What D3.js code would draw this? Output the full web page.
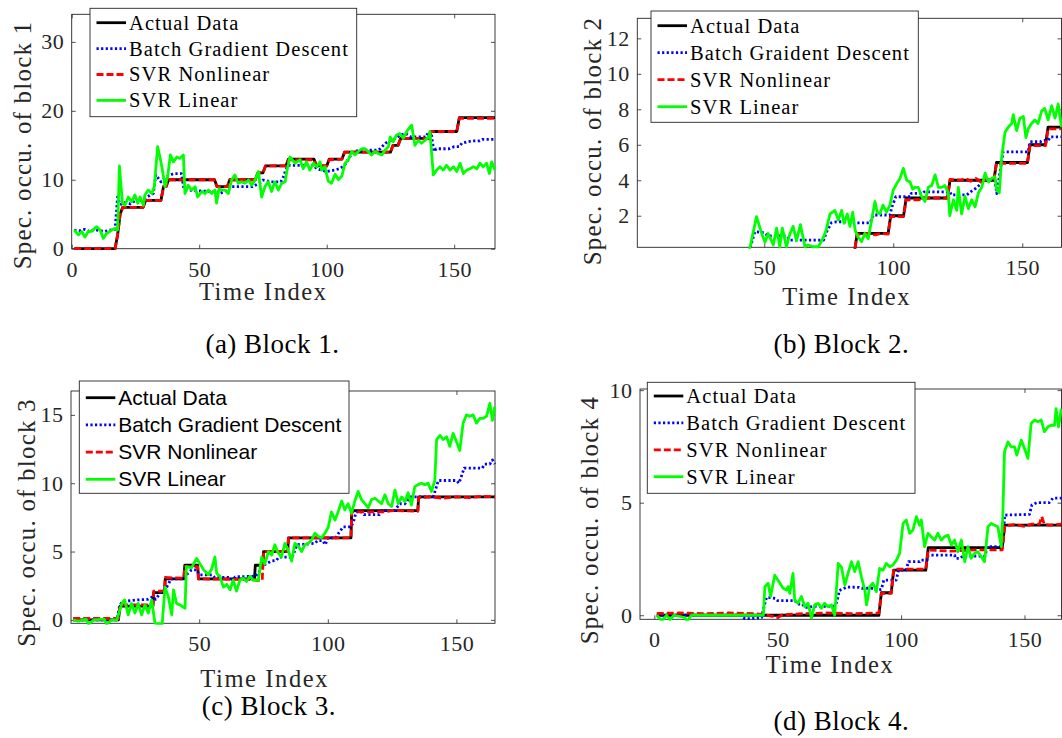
<!DOCTYPE html>
<html>
<head>
<meta charset="utf-8">
<script src="https://cdn.jsdelivr.net/npm/d3@7"></script>
<style>
  html, body { margin: 0; padding: 0; background: #fff; }
  svg { display: block; }
</style>
</head>
<body>
<div id="chart"></div>
<script>
// ---- data: [time index, value] vertices ----

// (a) Block 1
const b1Actual = [[1,0],[17,0],[18,2],[19,5],[20,6],[28,6],[29,7],[35,7],[36,9],[37,9],[38,10],[56,10],[57,9],[61,9],[62,10],[72,10],[73,11],[75,11],[76,12],[84,12],[85,13],[95,13],[96,12],[100,12],[101,13],[106,13],[107,14],[125,14],[126,15],[128,15],[129,16],[140,16],[141,17],[151,17],[152,19],[166,19]];
const b1Bgd = [[1,2.7],[3,2.6],[5,2.8],[7,2.5],[9,2.8],[11,2.6],[13,2.5],[15,2.7],[17,2.8],[18,7.5],[19,6.4],[21,6.7],[23,6.5],[25,7.0],[27,6.7],[28,7.2],[30,7.6],[32,8.0],[33,10.7],[35,9.7],[37,10.4],[40,10.9],[43,10.9],[44,8.7],[45,8.5],[50,8.4],[55,8.3],[57,8.4],[58,8.0],[60,8.3],[61,8.6],[62,9.0],[71,9.0],[72,9.2],[74,9.6],[75,9.95],[78,9.7],[82,9.7],[83,10.4],[84,11.5],[85,12.1],[95,12.1],[96,11.6],[100,11.2],[103,11.4],[105,11.6],[107,12.1],[109,13.3],[111,14.1],[113,14.3],[120,14.3],[121,14.5],[123,15.3],[125,15.7],[127,16.0],[129,16.5],[131,16.7],[133,16.2],[139,16.2],[140,17.0],[141,16.8],[142,14.1],[143,14.5],[148,14.5],[150,14.8],[152,14.8],[153,15.3],[155,15.5],[157,15.65],[160,15.65],[161,15.85],[166,15.85]];
const b1SvrNl = [[1,0],[17,0],[18,2],[19,5],[20,6],[28,6],[29,7],[35,7],[36,9],[37,9],[38,10],[56,10],[57,9],[61,9],[62,10],[72,10],[73,11],[75,11],[76,12],[84,12],[85,12.9],[95,12.9],[96,12],[100,12],[101,12.9],[106,13],[107,14],[125,14],[126,15],[128,15],[129,16],[140,16],[141,17],[151,17],[152,18.9],[166,18.9]];
const b1SvrLin = [[1,2.7],[2.6,2.0],[3.9,2.5],[5.2,1.7],[6.5,2.5],[7.8,2.5],[9.8,3.2],[11.1,2.7],[12.4,1.5],[13.7,2.2],[15.7,2.7],[17,2.95],[18,2.7],[18.7,12.0],[19.9,6.6],[20.9,6.3],[22.2,7.5],[23.5,6.8],[24.8,7.8],[25.9,6.6],[26.8,7.5],[28.1,6.3],[28.7,7.8],[30,8.5],[31.4,8.0],[32.4,9.0],[33.7,14.8],[34.6,13.3],[35.5,11.6],[36.6,9.0],[37.6,10.4],[38.7,13.6],[39.9,12.6],[41.2,13.3],[42.5,13.1],[43.8,13.6],[44.4,8.0],[45.7,9.2],[47,8.5],[48.4,9.0],[49.4,7.5],[51,8.3],[52.3,8.0],[53.6,8.5],[54.9,8.0],[56.2,8.5],[56.8,6.6],[57.8,8.7],[58.8,8.5],[60.1,8.5],[61.4,8.0],[62.7,9.95],[64,10.7],[65.3,9.5],[66.6,9.7],[67.9,9.5],[69.3,9.95],[70.6,9.2],[71.9,9.95],[73.2,11.2],[74.5,7.5],[75.8,9.0],[77.1,9.7],[78.4,8.3],[79.7,9.7],[81,8.5],[82.4,9.5],[83.7,9.7],[84.5,11.5],[85.6,13.3],[87.6,12.4],[89.5,12.9],[90.8,11.6],[92.1,12.6],[93.4,11.4],[94.8,12.4],[96.1,11.9],[97.4,12.6],[98,11.4],[99.3,11.9],[100.6,9.8],[101.9,9.5],[103.3,10.8],[104.6,10.0],[105.9,10.5],[107.2,12.4],[108.5,12.9],[109.8,14.1],[111.1,13.6],[112.4,14.1],[113.8,14.5],[115,14.5],[116.3,14.1],[117.6,13.6],[118.9,14.1],[120.2,13.8],[121.6,13.6],[122.9,14.3],[124.2,14.8],[124.9,16.2],[126.1,15.5],[127.4,16.5],[128.7,16.7],[130,16.0],[131.4,17.0],[132.7,17.7],[133.3,17.9],[134.6,15.0],[135.9,15.7],[137.2,15.3],[138.5,15.7],[139.9,16.2],[140.5,17.0],[141.8,10.7],[143.1,11.4],[144.4,11.9],[145.7,11.4],[147,12.1],[148.4,11.4],[149.7,11.9],[151,11.2],[152.3,12.4],[153.6,10.9],[154.9,11.4],[156.2,11.6],[157.5,11.9],[158.9,11.6],[160.1,12.4],[161.4,11.9],[162.7,12.4],[163.8,10.9],[164.7,12.6],[166,11.4]];

// (b) Block 2
const b2Actual = [[1,0],[85,0],[86,1],[98,1],[99,2],[104,2],[105,3],[121,3],[122,4],[139,4],[140,5],[152,5],[153,6],[159,6],[160,7],[165,7]];
const b2Bgd = [[1,0],[44,0],[44.5,0.2],[46.4,1.1],[49.9,1.05],[51.5,0.86],[58.7,0.86],[60,0.63],[73,0.63],[74.2,1.1],[76,1.6],[78,1.66],[83,1.66],[85,1.6],[91,1.6],[92.3,2.04],[98.7,2.04],[99.5,2.5],[101,3.07],[106.5,3.07],[107,3.26],[111.6,3.26],[112,3.35],[122,3.35],[122.5,3.17],[128.5,3.17],[130,3.35],[132,3.55],[134,3.8],[136,4.0],[139.4,4.0],[140.1,3.25],[141.3,4.4],[142.6,5.6],[152.3,5.6],[153,6.17],[157,6.17],[158,6.25],[160,6.25],[161,6.45],[165,6.45]];
const b2SvrNl = [[1,0],[85,0],[86,0.95],[90,1.0],[93,0.92],[95,1.0],[98,0.97],[99,1.95],[104,1.95],[105,2.9],[110,2.9],[112,3.0],[121,3.0],[122,4.05],[126,4.0],[128,4.1],[130,3.95],[132,4.1],[134,3.9],[136,4.05],[139,4.0],[140,4.95],[152,4.95],[153,5.95],[159,5.95],[160,6.9],[165,6.9]];
const b2SvrLin = [[1,0],[44,0],[44.5,0.22],[47,1.95],[49,1.0],[50.3,0.5],[51.5,1.0],[53.5,0.35],[54.8,1.3],[56,0.25],[57,1.3],[58.6,0.25],[60,1.0],[61.2,1.4],[62.5,0.6],[64,1.5],[65.8,0.25],[67,0.35],[69,0.25],[71,0.25],[73,0.8],[74,1.2],[75.5,2.1],[77.4,2.3],[78.7,1.75],[80,2.3],[80.9,1.57],[82.2,2.1],[83.2,1.4],[84.3,2.2],[85.2,1.2],[86.4,0.8],[87.7,0.54],[89,1.0],[90.3,0.7],[91.5,1.66],[92.9,2.8],[93.8,2.2],[94.8,2.1],[96,2.6],[97.4,2.2],[98.7,2.6],[100,3.45],[101.3,3.8],[102.6,4.1],[103.9,4.67],[105.2,4.0],[106.5,3.9],[107.5,3.5],[108.4,3.6],[109.7,3.6],[110.9,3.1],[112.3,2.8],[113.6,3.6],[114.9,3.7],[116.2,4.3],[117.5,3.6],[118.8,3.6],[120,3.7],[121.3,3.3],[121.9,2.0],[123.3,2.9],[124.6,2.3],[125.2,3.6],[126.5,2.1],[127.8,3.1],[129.1,2.4],[130.4,2.9],[131.7,2.5],[133,3.3],[134.3,3.6],[135.6,4.4],[136.9,3.9],[138.1,4.1],[139.4,4.2],[140.1,3.45],[141.1,3.3],[142,5.3],[143.3,6.7],[144.6,7.0],[145.9,7.2],[146.5,7.7],[147.8,6.8],[149.1,7.5],[150.4,7.6],[151.4,6.4],[152.3,6.9],[153.6,7.2],[154.9,7.4],[156.1,7.2],[157.5,7.9],[158.7,8.05],[160,7.4],[161.4,8.2],[162.7,7.5],[163.9,8.3],[165.2,7.0]];

// (c) Block 3
const b3Actual = [[1,0],[18.6,0],[19.2,1],[32,1],[32.3,2],[36.5,2],[36.8,3],[44,3],[44.4,4],[49.4,4],[49.7,3],[71.5,3],[71.8,4],[74.7,4],[75,5],[84.4,5],[84.7,6],[109,6],[109.3,8],[135,8],[135.3,9],[165,9]];
const b3Bgd = [[1,0],[18,0],[19,1.0],[20,1.34],[23,1.4],[26,1.46],[30,1.5],[32,1.7],[33,1.5],[35,2.0],[37,2.3],[38,2.6],[39,3.0],[44,3.0],[45,3.3],[47,3.66],[49,3.66],[50,3.3],[55,3.3],[56,3.1],[62,3.1],[63,2.9],[64,3.15],[72,3.2],[74,3.7],[75,4.0],[78,4.3],[80,4.35],[81,4.6],[85,4.6],[86,4.5],[88,5.5],[95,5.6],[96,5.8],[98,5.8],[99,5.5],[100,6.0],[103,6.0],[104,6.3],[106,6.8],[109,6.8],[110,7.2],[111,7.9],[113,7.9],[114,7.7],[120,7.7],[121,8.0],[126,8.0],[128,8.5],[130,8.5],[132,9.0],[141,9.0],[143,10.2],[150,10.2],[151,10.0],[153,11.1],[160,11.1],[161,11.4],[163,11.4],[164,11.7],[165,11.4]];
const b3SvrNl = [[1,0.1],[18.6,0.1],[19.2,1.1],[32,1.1],[32.3,2.1],[36.5,2.1],[36.8,3.1],[44,3.05],[44.4,3.9],[49.4,3.9],[49.7,3.0],[71.5,2.95],[72,2.9],[74.5,2.9],[75,5],[84.4,5],[84.7,6],[109,6],[109.3,7.9],[122,7.9],[125,8.0],[135,7.95],[135.3,8.95],[140,9.0],[145,8.9],[150,9.0],[155,8.95],[160,9.05],[165,9.0]];
const b3SvrLin = [[1,0],[3,-0.1],[6,0.05],[7,-0.3],[9,0],[13,0.05],[14,-0.3],[16,0],[18,0],[19.9,1.2],[21,1.46],[22.4,0.37],[23.7,1.2],[25,0.5],[26.3,1.2],[27.6,0.37],[28.9,1.1],[30.2,0.5],[31.5,1.46],[32.8,-0.25],[35.6,-0.3],[36.7,2.4],[38,1.7],[39.3,0.37],[40,2.2],[41.2,1.2],[42.5,1.1],[44.5,0.85],[45,3.9],[47,3.8],[49,4.5],[50.3,4.1],[51.6,3.7],[53.5,3.3],[54.8,3.7],[56.1,4.6],[56.8,3.4],[58,3.2],[59.4,2.4],[60.7,2.6],[62,2.2],[63.2,2.9],[64.5,2.1],[65.8,2.9],[67.1,3.05],[68.4,2.8],[69.7,3.2],[71,2.9],[73,2.9],[74.3,4.6],[75.5,4.1],[76.9,5.0],[78.2,4.75],[79.4,5.5],[80.7,4.9],[82,4.6],[83.3,5.6],[84.6,5.1],[85.9,4.3],[87.2,5.6],[88.5,5.4],[89.8,5.0],[91.1,5.5],[92.4,5.6],[93.7,5.85],[95,6.35],[96.3,6.1],[97.5,6.0],[98.9,6.35],[100.2,6.8],[101.4,7.9],[102.8,7.3],[104,7.9],[105.4,8.7],[106.6,8.05],[107.9,8.5],[109.2,7.8],[110.5,8.7],[111.8,9.4],[113.1,8.8],[114.4,8.5],[115.7,8.2],[117,8.8],[118.3,8.9],[119.6,8.7],[120.9,8.5],[122.2,9.15],[123.5,8.5],[124.8,8.3],[126.1,9.5],[127.4,8.5],[128.7,9.0],[130,8.65],[131.2,9.3],[132.5,8.4],[133.8,9.75],[135.1,9.9],[136.4,10],[137.7,9.9],[139,10],[140.3,9.4],[141.6,10.2],[142.3,13.2],[143.6,13.5],[144.9,13.2],[146.2,13.4],[147.4,12.7],[148.7,13.65],[150,13.05],[151.3,12.4],[152.6,14.4],[153.9,15],[155.2,14.9],[156.5,15],[157.8,14.4],[159.1,14.75],[160.4,14.75],[161.7,14.9],[163,15.85],[164,14.6],[164.9,15.6]];

// (d) Block 4
const b4Actual = [[1,0],[91,0],[92,1],[96,1],[97,2],[110,2],[111,3],[141,3],[142,4],[165,4]];
const b4Bgd = [[1,0],[35,0],[36.7,-0.15],[38.7,-0.15],[43.5,-0.1],[44.5,0.4],[45.5,0.8],[49,0.75],[50,0.65],[57,0.65],[58,0.5],[60,0.5],[61,0.35],[63,0.35],[64,0.4],[73,0.4],[74,0.6],[75,1.1],[77,1.2],[78,1.25],[83,1.24],[84,1.2],[88.7,1.2],[90,1.1],[92,1.15],[93,1.56],[98,1.56],[99,2.0],[102,2.0],[103,2.38],[107.5,2.38],[108,2.45],[110.5,2.45],[111,2.67],[121.7,2.67],[122,2.53],[124,2.53],[125,2.63],[134,2.63],[135,3.05],[139.8,3.05],[141,3.0],[142,4.45],[152,4.48],[153,4.9],[155,5.0],[160,5.0],[161.5,5.2],[165,5.2]];
const b4SvrNl = [[1,0.08],[10,0.1],[20,0.07],[30,0.1],[40,0.07],[45,0.02],[48,-0.05],[50,-0.1],[52,0.02],[60,0.07],[70,0.1],[80,0.07],[91,0.1],[92,0.97],[96,0.97],[97,2.05],[110,2.05],[111,2.9],[120,2.85],[130,2.9],[141,2.9],[142,3.97],[146,4.03],[150,3.95],[153,4.05],[156,4.05],[157,4.38],[158,4.05],[160,4.0],[165,4.05]];
const b4SvrLin = [[1,0],[3,-0.25],[5,0],[6.4,-0.2],[8,0],[12.4,-0.1],[13,-0.25],[13.8,-0.2],[15,0],[44.2,0],[44.8,1.27],[46.1,1.42],[47.1,0.83],[48.8,1.78],[50.9,1.42],[52.2,1.2],[53.6,1.12],[54.2,1.27],[54.9,0.97],[56.2,1.86],[56.9,0.68],[58.2,0.53],[59.6,0.83],[61,0.38],[62.3,0.53],[63.7,-0.13],[65,0.46],[66.4,0.53],[67.7,0.31],[69,0.53],[70.4,0.38],[71.8,0.46],[73.1,0],[74.5,2.3],[75.8,2.15],[77.2,1.34],[78.5,1.86],[79.9,2.38],[81.2,1.94],[82.6,2.38],[83.9,1.71],[85.3,1.12],[86,0.46],[87.3,1.27],[88.6,1.42],[90,1.05],[91.3,2.08],[92.7,2.0],[94,2.3],[95.4,2.15],[96.7,2.23],[98.1,2.45],[99.4,2.75],[100.8,4.08],[102.1,4.23],[103.5,3.64],[104.8,3.79],[106.2,4.38],[107.5,4.0],[108.2,4.23],[109.5,3.05],[110.9,3.64],[112.2,3.49],[113.6,3.34],[114.9,3.64],[116.3,3.34],[117.6,3.49],[119,3.56],[120.4,3.12],[121.7,3.34],[123,2.82],[124.4,3.34],[125.8,2.38],[127.1,3.05],[128.4,2.53],[129.8,2.75],[131.1,2.82],[132.5,2.6],[133.8,2.38],[135.2,3.93],[136.5,4.08],[137.9,4.0],[139.2,3.93],[140.6,3.05],[141.2,4.38],[141.9,7.26],[143.3,7.7],[144.6,7.48],[146,7.48],[146.9,7.11],[148.7,7.78],[150,7.41],[151.4,6.97],[152.7,8.52],[154.1,8.67],[155.4,8.59],[156.8,8.67],[158.1,8.15],[159.5,8.37],[160.8,8.44],[162.2,8.44],[162.8,9.18],[163.8,8.37],[164.9,9.18]];

// tick values and labels
const xTicksFull = [0, 50, 100, 150];
const xTicksNoZero = [50, 100, 150];
const yTicks1 = [0, 10, 20, 30];
const yTicks2 = [2, 4, 6, 8, 10, 12];
const yTicks3 = [0, 5, 10, 15];
const yTicks4 = [0, 5, 10];
const legendNames = ['Actual Data', 'Batch Gradient Descent', 'SVR Nonlinear', 'SVR Linear'];
const legendNamesB = ['Actual Data', 'Batch Graident Descent', 'SVR Nonlinear', 'SVR Linear'];

// line styles, same order as the series
const seriesStyle = [
  { color: '#000000', dash: null },
  { color: '#0000ff', dash: '2.2,2.4' },
  { color: '#ff0000', dash: '7,3' },
  { color: '#00ff00', dash: null }
];

const SERIF = "'Liberation Serif', 'Times New Roman', serif";
const SANS = "'Liberation Sans', Arial, sans-serif";
const INK = '#262626';

const panels = [
  {
    series: [b1Actual, b1Bgd, b1SvrNl, b1SvrLin], names: legendNames, legendFont: SERIF,
    box: { left: 71.7, right: 495, top: 14.3, bottom: 248.7 },
    xDomain: [0, 166], yDomain: [0, 34], xTicks: xTicksFull, yTicks: yTicks1,
    yLabel: 'Spec. occu. of block 1', yLabelAt: [31, 145], xLabelAt: [263.3, 299.5],
    caption: '(a) Block 1.', captionAt: [272.5, 353],
    legend: { x: 90, y: 8.3, w: 266.7, h: 108.4, row0: 14.4, gap: 25.9 }
  },
  {
    series: [b2Actual, b2Bgd, b2SvrNl, b2SvrLin], names: legendNamesB, legendFont: SERIF,
    box: { left: 637.3, right: 1061.5, top: 18.3, bottom: 247.3 },
    xDomain: [0.8, 165.2], yDomain: [0.22, 13.13], xTicks: xTicksNoZero, yTicks: yTicks2,
    yLabel: 'Spec. occu. of block 2', yLabelAt: [601, 141], xLabelAt: [846.7, 305],
    caption: '(b) Block 2.', captionAt: [841.3, 353],
    legend: { x: 651, y: 11, w: 267.3, h: 111.3, row0: 14.7, gap: 27 }
  },
  {
    series: [b3Actual, b3Bgd, b3SvrNl, b3SvrLin], names: legendNames, legendFont: SANS,
    box: { left: 71, right: 495, top: 391, bottom: 623.3 },
    xDomain: [0.15, 165], yDomain: [-0.25, 16.75], xTicks: xTicksNoZero, yTicks: yTicks3,
    yLabel: 'Spec. occu. of block 3', yLabelAt: [35, 522.5], xLabelAt: [264.7, 686.7],
    caption: '(c) Block 3.', captionAt: [268.8, 715],
    legend: { x: 79.3, y: 381, w: 269.7, h: 112.3, row0: 16.7, gap: 27.2 }
  },
  {
    series: [b4Actual, b4Bgd, b4SvrNl, b4SvrLin], names: legendNames, legendFont: SERIF,
    box: { left: 640, right: 1061.5, top: 389, bottom: 619.3 },
    xDomain: [-5.8, 165], yDomain: [-0.18, 10.05], xTicks: xTicksFull, yTicks: yTicks4,
    yLabel: 'Spec. occu. of block 4', yLabelAt: [597.5, 520], xLabelAt: [830, 673],
    caption: '(d) Block 4.', captionAt: [841.3, 730],
    legend: { x: 647.3, y: 382.3, w: 267.7, h: 111, row0: 13.7, gap: 26.9 }
  }
];

const svg = d3.select('#chart').append('svg')
  .attr('width', 1062)
  .attr('height', 738);

const defs = svg.append('defs');

function styleTicks(g) {
  g.select('.domain').remove();
  g.selectAll('.tick line').attr('stroke', INK).attr('stroke-width', 0.8);
  g.attr('font-family', SERIF).attr('font-size', 22);
  g.selectAll('.tick text')
    .attr('fill', INK)
    .style('letter-spacing', '0.5px');
}

panels.forEach((p, i) => {
  const b = p.box;
  const x = d3.scaleLinear().domain(p.xDomain).range([b.left, b.right]);
  const y = d3.scaleLinear().domain(p.yDomain).range([b.bottom, b.top]);

  const g = svg.append('g').attr('class', 'panel');

  // clip lines to the axes (a little slack so strokes on the edge keep their width)
  const clipId = 'clip' + i;
  defs.append('clipPath').attr('id', clipId)
    .append('rect')
    .attr('x', b.left - 1.5).attr('y', b.top - 1.5)
    .attr('width', b.right - b.left + 3).attr('height', b.bottom - b.top + 3);

  // axes: ticks inside on all four sides, labels on bottom and left
  g.append('g')
    .attr('transform', `translate(0,${b.bottom})`)
    .call(d3.axisBottom(x).tickValues(p.xTicks).tickSize(-4).tickSizeOuter(0).tickPadding(12.4))
    .call(styleTicks);
  g.append('g')
    .attr('transform', `translate(0,${b.top})`)
    .call(d3.axisTop(x).tickValues(p.xTicks).tickSize(-4).tickSizeOuter(0).tickFormat(''))
    .call(styleTicks);
  g.append('g')
    .attr('transform', `translate(${b.left},0)`)
    .call(d3.axisLeft(y).tickValues(p.yTicks).tickSize(-4).tickSizeOuter(0).tickPadding(7.5))
    .call(styleTicks);
  g.append('g')
    .attr('transform', `translate(${b.right},0)`)
    .call(d3.axisRight(y).tickValues(p.yTicks).tickSize(-4).tickSizeOuter(0).tickFormat(''))
    .call(styleTicks);

  g.selectAll('.tick text').filter(function() { return this.textContent === ''; }).remove();

  g.append('rect')
    .attr('x', b.left).attr('y', b.top)
    .attr('width', b.right - b.left).attr('height', b.bottom - b.top)
    .attr('fill', 'none')
    .attr('stroke', INK)
    .attr('stroke-width', 0.9);

  // data lines
  const line = d3.line().x(d => x(d[0])).y(d => y(d[1]));
  const lines = g.append('g').attr('clip-path', `url(#${clipId})`);
  p.series.forEach((s, k) => {
    lines.append('path')
      .datum(s)
      .attr('d', line)
      .attr('fill', 'none')
      .attr('stroke', seriesStyle[k].color)
      .attr('stroke-width', 2.8)
      .attr('stroke-linejoin', 'round')
      .attr('stroke-dasharray', seriesStyle[k].dash);
  });

  // axis titles
  g.append('text')
    .attr('x', p.xLabelAt[0]).attr('y', p.xLabelAt[1])
    .attr('text-anchor', 'middle')
    .attr('font-family', SERIF).attr('font-size', 24.5)
    .style('letter-spacing', '1.6px')
    .attr('fill', INK)
    .text('Time Index');

  g.append('text')
    .attr('transform', `translate(${p.yLabelAt[0]},${p.yLabelAt[1]}) rotate(-90)`)
    .attr('text-anchor', 'middle')
    .attr('font-family', SERIF).attr('font-size', 25)
    .style('letter-spacing', '1.2px')
    .attr('fill', INK)
    .text(p.yLabel);

  // legend
  const L = p.legend;
  const lg = g.append('g').attr('transform', `translate(${L.x},${L.y})`);
  lg.append('rect')
    .attr('width', L.w).attr('height', L.h)
    .attr('fill', '#fff')
    .attr('stroke', INK)
    .attr('stroke-width', 0.9);
  p.names.forEach((name, k) => {
    const cy = L.row0 + k * L.gap;
    lg.append('line')
      .attr('x1', 6.5).attr('x2', 36)
      .attr('y1', cy).attr('y2', cy)
      .attr('stroke', seriesStyle[k].color)
      .attr('stroke-width', 2.8)
      .attr('stroke-dasharray', seriesStyle[k].dash);
    const t = lg.append('text')
      .attr('x', 39).attr('y', cy)
      .attr('dy', '0.34em')
      .attr('fill', '#000')
      .attr('font-family', p.legendFont)
      .text(name);
    if (p.legendFont === SANS) {
      t.attr('font-size', 21);
    } else {
      t.attr('font-size', 20.5).style('letter-spacing', '1.1px');
    }
  });

  // sub-figure caption
  svg.append('text')
    .attr('x', p.captionAt[0]).attr('y', p.captionAt[1])
    .attr('text-anchor', 'middle')
    .attr('font-family', SERIF).attr('font-size', 27)
    .style('letter-spacing', '0.5px')
    .attr('fill', '#000')
    .text(p.caption);
});
</script>
</body>
</html>
